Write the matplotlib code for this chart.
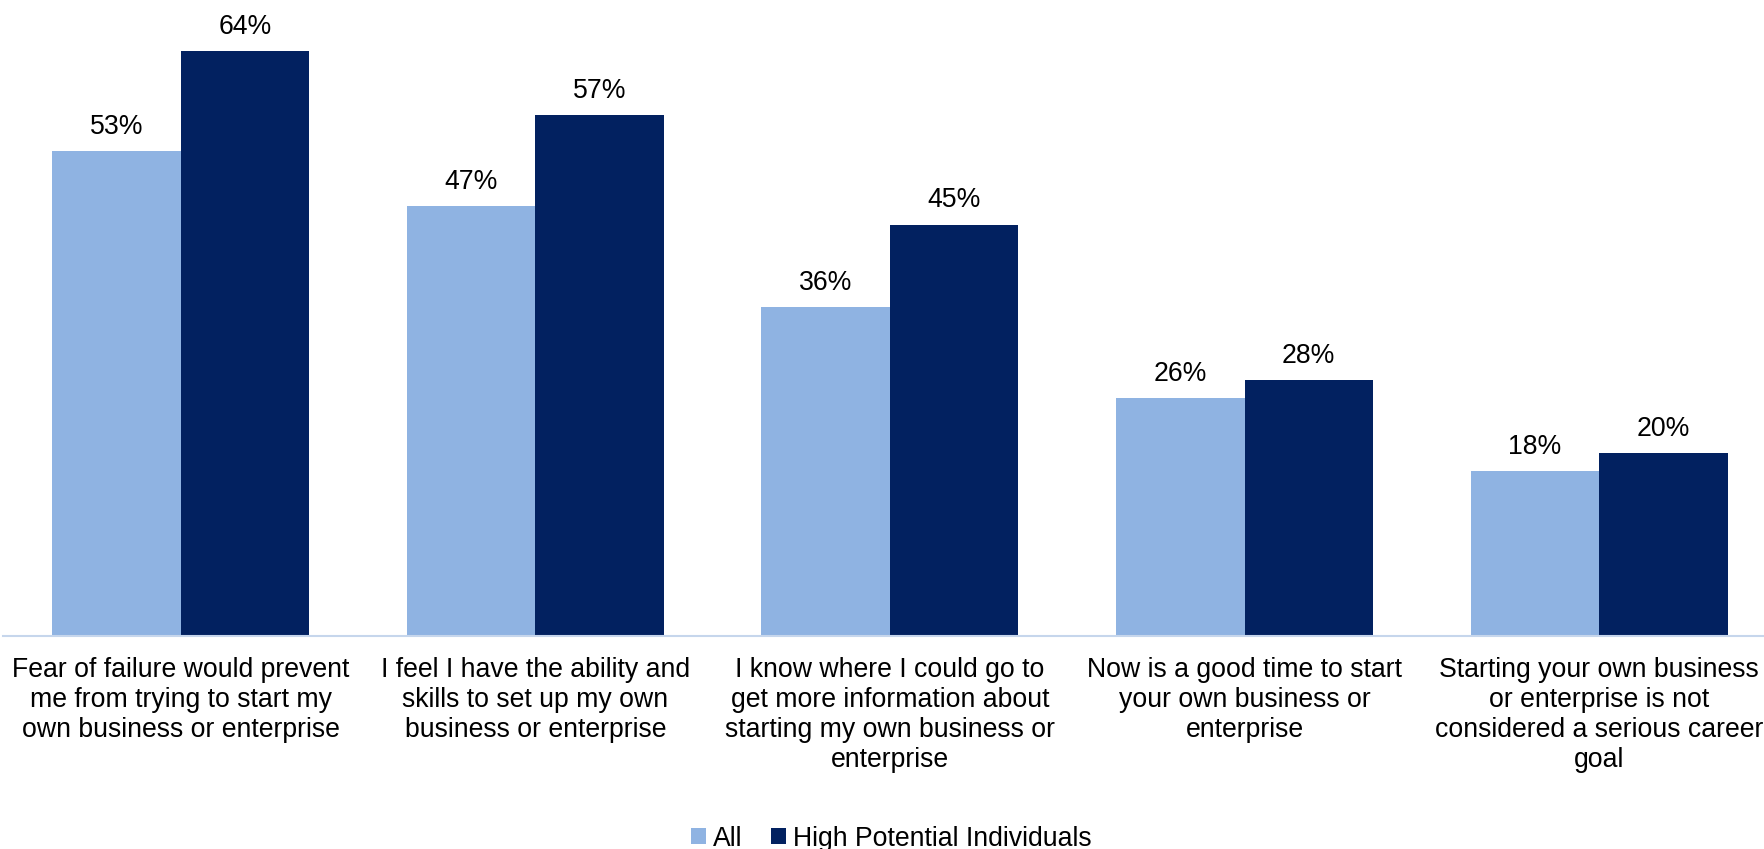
import matplotlib.pyplot as plt
import numpy as np

plt.rcParams["font.family"] = ["Liberation Sans", "DejaVu Sans"]

categories = [
    "Fear of failure would prevent\nme from trying to start my\nown business or enterprise",
    "I feel I have the ability and\nskills to set up my own\nbusiness or enterprise",
    "I know where I could go to\nget more information about\nstarting my own business or\nenterprise",
    "Now is a good time to start\nyour own business or\nenterprise",
    "Starting your own business\nor enterprise is not\nconsidered a serious career\ngoal",
]
all_vals = [53, 47, 36, 26, 18]
hpi_vals = [64, 57, 45, 28, 20]
series_names = ["All", "High Potential Individuals"]

light = "#8FB3E2"
navy = "#022160"
fs = 19.2

fig = plt.figure(figsize=(17.65, 8.49), dpi=100)
# axes placed by hand to match the reference framing (right edge is cropped)
ax = fig.add_axes([3.4 / 1765, 213 / 849, 1773 / 1765, 640 / 849])

x = np.arange(len(categories))
w = 0.3625
b1 = ax.bar(x - w / 2, all_vals, w, color=light, label=series_names[0])
b2 = ax.bar(x + w / 2, hpi_vals, w, color=navy, label=series_names[1])

for bars, vals in ((b1, all_vals), (b2, hpi_vals)):
    for rect, v in zip(bars, vals):
        ax.annotate(f"{v}%", (rect.get_x() + rect.get_width() / 2, rect.get_height()),
                    xytext=(0, 17.5), textcoords="offset points",
                    ha="center", va="center", fontsize=fs, color="black")

ax.set_xlim(-0.5, 4.5)
ax.set_ylim(0, 70)
ax.set_xticks(x)
ax.set_xticklabels(categories, fontsize=fs, linespacing=1.21)
ax.tick_params(axis="x", length=0, pad=15)
ax.set_yticks([])
for s in ("top", "left", "right"):
    ax.spines[s].set_visible(False)
ax.spines["bottom"].set_color("#C6D6EC")
ax.spines["bottom"].set_linewidth(1.5)

fig.legend(loc="center", bbox_to_anchor=(0.505, 0.012), ncol=2, frameon=False,
           fontsize=fs, handlelength=0.55, handleheight=0.55,
           handletextpad=0.25, columnspacing=1.1)

fig.savefig("out.png", dpi=100)
